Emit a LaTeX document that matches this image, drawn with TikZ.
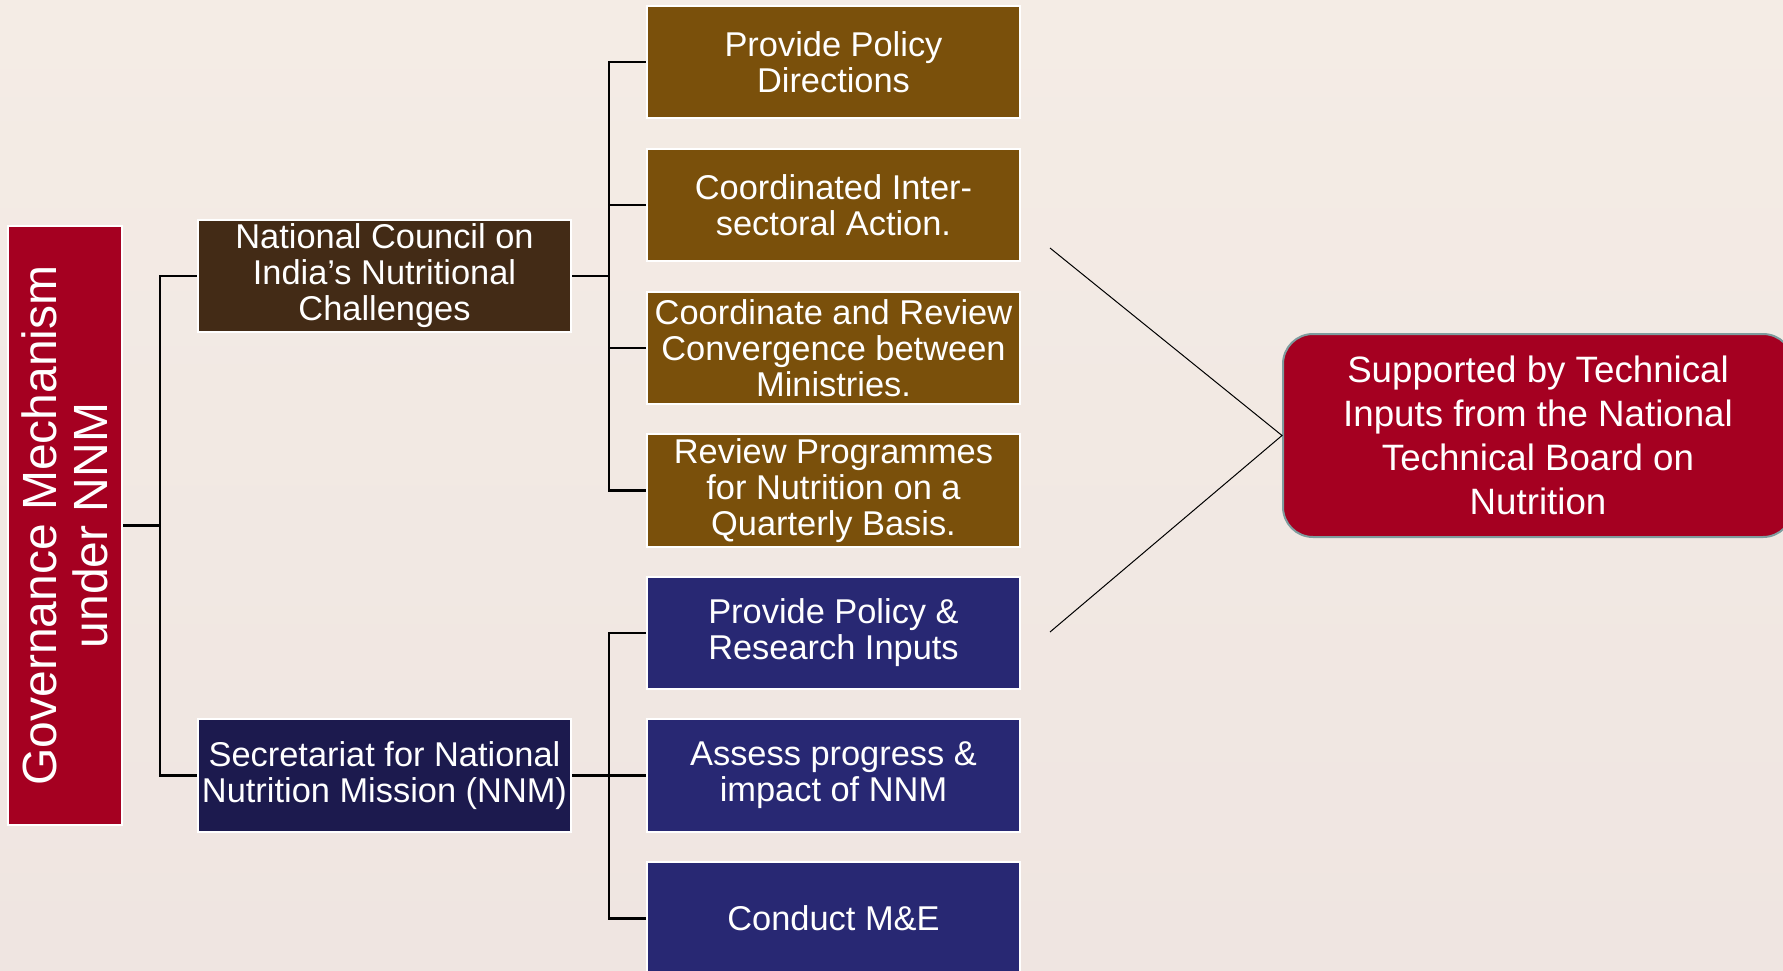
\documentclass[tikz,border=0pt]{standalone}
\usepackage{fontspec}
\setmainfont{Liberation Sans}
\definecolor{govred}{HTML}{A50021}
\definecolor{council}{HTML}{432B16}
\definecolor{counciltask}{HTML}{7A500B}
\definecolor{secretariat}{HTML}{1C1A4E}
\definecolor{secrtask}{HTML}{282873}
\definecolor{papertop}{HTML}{F4ECE5}
\definecolor{paperbottom}{HTML}{EFE5E1}
\definecolor{tnbedge}{HTML}{7E9C9E}
\tikzset{box/.style={draw=white,line width=2pt,text=white,inner sep=0pt,
    minimum width=373pt,minimum height=112.5pt,align=center,
    font=\fontsize{34.4}{36}\selectfont}}

\begin{document}
\begin{tikzpicture}[x=1pt,y=1pt,
            link/.style={draw=black,line width=2.5pt},
            thinlink/.style={draw=black,line width=1pt}
            ]
            \useasboundingbox (0,0) rectangle (1783,-970);
            \clip (0,0) rectangle (1783,-970);
            \shade[top color=papertop,bottom color=paperbottom] (0,0) rectangle (1783,-970);

            \node[box,fill=govred,rotate=90,minimum width=599pt,minimum height=114pt,
                font=\fontsize{48}{51}\selectfont] (gov) at (65,-525.5) {Governance Mechanism\\under NNM};
            \node[box,fill=council] (council) at (384.5,-276) {National Council on\\India’s Nutritional\\Challenges};
            \node[box,fill=secretariat] (secr) at (384.5,-775.5) {Secretariat for National\\Nutrition Mission (NNM)};

            \node[box,fill=counciltask] (c1) at (833.5,-62) {Provide Policy\\Directions};
            \node[box,fill=counciltask] (c2) at (833.5,-205) {Coordinated Inter-\\sectoral Action.};
            \node[box,fill=counciltask] (c3) at (833.5,-348) {Coordinate and Review\\Convergence between\\Ministries.};
            \node[box,fill=counciltask] (c4) at (833.5,-490.5) {Review Programmes\\for Nutrition on a\\Quarterly Basis.};
            \node[box,fill=secrtask] (s1) at (833.5,-633) {Provide Policy \&\\Research Inputs};
            \node[box,fill=secrtask] (s2) at (833.5,-775.5) {Assess progress \&\\impact of NNM};
            \node[box,fill=secrtask] (s3) at (833.5,-918.5) {Conduct M\&E};

            \node[box,fill=govred,draw=tnbedge,rounded corners=30pt,minimum width=510pt,minimum height=203pt,
                font=\fontsize{36.7}{44.2}\selectfont] (tnb) at (1538,-435.5)
                {Supported by Technical\\Inputs from the National\\Technical Board on\\Nutrition};

            \coordinate (t0) at (160,-525.5);
            \coordinate (t1) at (609,-276);
            \coordinate (t2) at (609,-775.5);
            \draw[link] (gov.south) -- (t0) |- (council.west);
            \draw[link] (t0) |- (secr.west);
            \draw[link] (council.east) -- (t1);
            \foreach \i in {1,...,4}
                \draw[link] (t1) |- (c\i.west);
            \draw[link] (secr.east) -- (t2);
            \foreach \i in {1,...,3}
                \draw[link] (t2) |- (s\i.west);

            \coordinate (d1) at (1050,-248);
            \coordinate (d2) at (1050,-632);
            \draw[thinlink] (d1) -- (tnb.west) -- (d2);
        \end{tikzpicture}
\end{document}
